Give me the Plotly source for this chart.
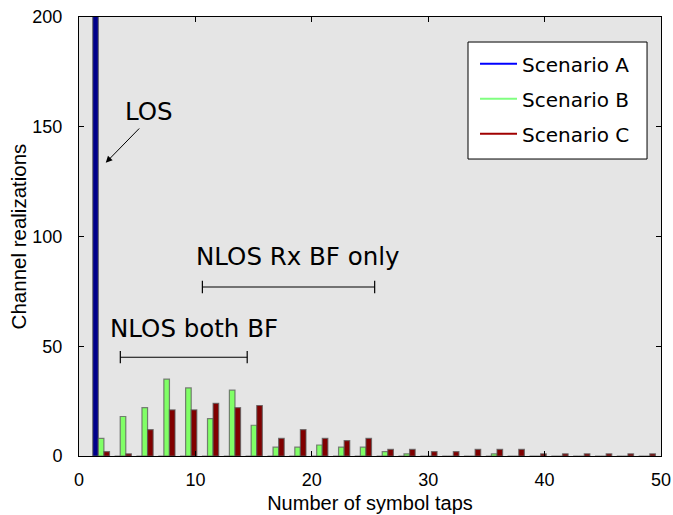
import plotly.graph_objects as go

# Histogram of channel delay spread, in symbol taps
tap_centers = [1.90, 3.78, 5.65, 7.53, 9.40, 11.28, 13.16, 15.03, 16.91, 18.78,
               20.66, 22.54, 24.41, 26.29, 28.16, 30.04, 31.92, 33.79, 35.67, 37.54,
               39.42, 41.30, 43.17, 45.05, 46.92, 48.80]

scenario_a = [700, 0, 0, 0, 0, 0, 0, 0, 0, 0,
              0, 0, 0, 0, 0, 0, 0, 0, 0, 0,
              0, 0, 0, 0, 0, 0]
scenario_b = [8, 18, 22, 35, 31, 17, 30, 14, 4, 4,
              5, 4, 4, 2, 1, 0, 0, 0, 1, 0,
              0, 0, 0, 0, 0, 0]
scenario_c = [2, 1, 12, 21, 21, 24, 22, 23, 8, 12,
              8, 7, 8, 3, 3, 2, 2, 3, 3, 3,
              1, 1, 1, 1, 1, 1]

series_names = ["Scenario A", "Scenario B", "Scenario C"]
bar_colors = ["#00008b", "#80ff66", "#800000"]
legend_colors = ["#0000ff", "#80ff80", "#a00000"]

x_ticks = [0, 10, 20, 30, 40, 50]
y_ticks = [0, 50, 100, 150, 200]

# bracket spans (x start, x end, height) for the two NLOS regions
rx_only_span = (10.6, 25.4, 77.0)
both_span = (3.55, 14.45, 45.0)

bar_width = 0.48
bar_offsets = [-1.5 * bar_width, -0.5 * bar_width, 0.5 * bar_width]

fig = go.Figure()
for name, vals, col, off in zip(series_names, [scenario_a, scenario_b, scenario_c],
                                bar_colors, bar_offsets):
    fig.add_trace(go.Bar(
        x=tap_centers, y=vals, name=name, showlegend=False,
        width=bar_width, offset=off,
        marker=dict(color=col, line=dict(color="rgba(90,90,90,0.75)", width=1.2)),
    ))

# line-style legend entries
for i, (name, col) in enumerate(zip(series_names, legend_colors)):
    fig.add_trace(go.Scatter(
        x=[None], y=[None], mode="lines", name=name,
        line=dict(color=col, width=2), legendgroup=str(i),
    ))

cap = 2.8
shapes = [
    # framed white box behind the legend entries
    dict(type="rect", xref="paper", yref="paper", x0=0.6684, x1=0.976,
         y0=0.6765, y1=0.943, fillcolor="white", line=dict(color="black", width=1),
         layer="above"),
]
for x0, x1, yb in (rx_only_span, both_span):
    shapes.append(dict(type="line", xref="x", yref="y", x0=x0, x1=x1, y0=yb, y1=yb,
                       line=dict(color="black", width=1.2)))
    for xe in (x0, x1):
        shapes.append(dict(type="line", xref="x", yref="y", x0=xe, x1=xe,
                           y0=yb - cap, y1=yb + cap, line=dict(color="black", width=1.2)))

ann_font = dict(family="DejaVu Sans", size=24.5, color="black")
annotations = [
    dict(x=18.8, y=90.8, text="NLOS Rx BF only", showarrow=False, font=ann_font,
         xref="x", yref="y"),
    dict(x=9.85, y=58.2, text="NLOS both BF", showarrow=False, font=ann_font,
         xref="x", yref="y"),
    dict(x=6.0, y=156.9, text="LOS", showarrow=False, font=ann_font,
         xref="x", yref="y"),
    dict(x=2.3, y=133.6, ax=5.3, ay=149.9, xref="x", yref="y", axref="x", ayref="y",
         text="", showarrow=True, arrowhead=2, arrowsize=1.3, arrowwidth=1,
         arrowcolor="black"),
]

axis_common = dict(
    showline=True, linecolor="black", linewidth=1, mirror="ticks",
    ticks="inside", ticklen=5, tickcolor="black", showgrid=False, zeroline=False,
    automargin=False,
    tickfont=dict(family="Liberation Sans", size=18, color="black"),
)

fig.update_layout(
    width=673, height=515,
    margin=dict(l=79, r=12, t=17, b=59),
    paper_bgcolor="white", plot_bgcolor="#e5e5e5",
    barmode="overlay",
    shapes=shapes, annotations=annotations,
    xaxis=dict(range=[0, 50], tickvals=x_ticks, ticklabelstandoff=7,
               title=dict(text="Number of symbol taps", standoff=7,
                          font=dict(family="Liberation Sans", size=20, color="black")),
               **axis_common),
    yaxis=dict(range=[0, 200], tickvals=y_ticks, ticklabelstandoff=12,
               title=dict(text="Channel realizations", standoff=0,
                          font=dict(family="Liberation Sans", size=20.5, color="black")),
               **axis_common),
    legend=dict(x=0.6684, y=0.938, xanchor="left", yanchor="top",
                bgcolor="rgba(0,0,0,0)", borderwidth=0,
                font=dict(family="DejaVu Sans", size=20, color="black"),
                tracegroupgap=6, traceorder="grouped", itemwidth=37,
                indentation=7),
)

fig.write_html("out.html")
